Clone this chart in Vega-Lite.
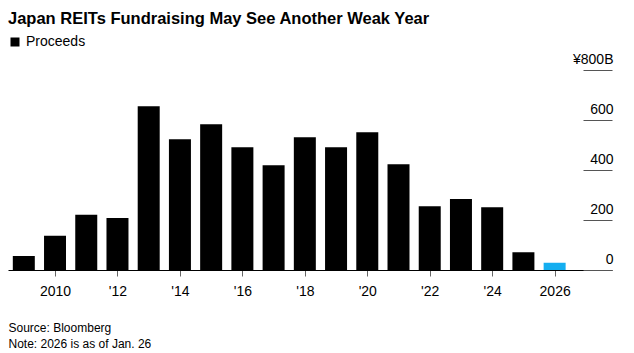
{
  "$schema": "https://vega.github.io/schema/vega-lite/v6.json",
  "width": 604,
  "height": 200,
  "autosize": {"type": "none"},
  "padding": {"left": 8, "top": 70, "right": 22, "bottom": 83},
  "background": "white",
  "config": {
    "font": "Liberation Sans",
    "view": {"stroke": null}
  },
  "title": {
    "text": "Japan REITs Fundraising May See Another Weak Year",
    "anchor": "start",
    "frame": "group",
    "font": "Liberation Sans",
    "fontSize": 16.5,
    "fontWeight": "bold",
    "color": "#000000",
    "baseline": "alphabetic",
    "offset": 13,
    "dy": 18
  },
  "data": {
    "values": [
      {"year": 2009, "value": 56, "series": "Proceeds"},
      {"year": 2010, "value": 137, "series": "Proceeds"},
      {"year": 2011, "value": 221, "series": "Proceeds"},
      {"year": 2012, "value": 208, "series": "Proceeds"},
      {"year": 2013, "value": 655, "series": "Proceeds"},
      {"year": 2014, "value": 523, "series": "Proceeds"},
      {"year": 2015, "value": 583, "series": "Proceeds"},
      {"year": 2016, "value": 491, "series": "Proceeds"},
      {"year": 2017, "value": 419, "series": "Proceeds"},
      {"year": 2018, "value": 531, "series": "Proceeds"},
      {"year": 2019, "value": 491, "series": "Proceeds"},
      {"year": 2020, "value": 551, "series": "Proceeds"},
      {"year": 2021, "value": 423, "series": "Proceeds"},
      {"year": 2022, "value": 255, "series": "Proceeds"},
      {"year": 2023, "value": 284, "series": "Proceeds"},
      {"year": 2024, "value": 251, "series": "Proceeds"},
      {"year": 2025, "value": 71, "series": "Proceeds"},
      {"year": 2026, "value": 29, "series": "Proceeds"}
    ]
  },
  "mark": {"type": "bar", "width": 22},
  "encoding": {
    "x": {
      "field": "year",
      "type": "quantitative",
      "scale": {"domain": [2008.654, 2027.677], "nice": false, "zero": false},
      "axis": {
        "values": [2010, 2012, 2014, 2016, 2018, 2020, 2022, 2024, 2026],
        "format": "d",
        "labelExpr": "datum.value == 2010 || datum.value == 2026 ? '' + datum.value : \"'\" + slice('' + datum.value, 2)",
        "labelFontSize": 14,
        "labelColor": "#000000",
        "labelPadding": 8,
        "labelFlush": false,
        "labelOverlap": false,
        "tickSize": 6,
        "tickColor": "#666666",
        "tickWidth": 1,
        "domainColor": "#000000",
        "domainWidth": 1,
        "grid": false,
        "title": ["Source: Bloomberg", "Note: 2026 is as of Jan. 26"],
        "titleFontSize": 12,
        "titleFontWeight": "normal",
        "titleColor": "#000000",
        "titleLineHeight": 16,
        "titleAnchor": "start",
        "titleAlign": "left",
        "titleBaseline": "alphabetic",
        "titleX": 0,
        "titleY": 61
      }
    },
    "y": {
      "field": "value",
      "type": "quantitative",
      "scale": {"domain": [0, 800], "nice": false},
      "axis": {
        "orient": "right",
        "values": [0, 200, 400, 600, 800],
        "labelExpr": "datum.value == 800 ? '¥800B' : datum.label",
        "labelFontSize": 14,
        "labelColor": "#000000",
        "labelAlign": "right",
        "labelBaseline": "alphabetic",
        "labelOffset": -7,
        "labelPadding": 30,
        "tickSize": -29,
        "tickColor": "#555555",
        "tickWidth": 1,
        "domain": false,
        "grid": false,
        "title": null
      }
    },
    "color": {
      "condition": {"test": "datum.year == 2026", "value": "#14aef0"},
      "field": "series",
      "type": "nominal",
      "scale": {"range": ["#000000"]},
      "legend": {
        "title": null,
        "orient": "none",
        "legendX": 0,
        "legendY": -35,
        "symbolType": "square",
        "symbolSize": 81,
        "symbolStrokeWidth": 0,
        "labelFontSize": 14,
        "labelColor": "#000000",
        "labelOffset": 4,
        "padding": 0
      }
    }
  }
}
